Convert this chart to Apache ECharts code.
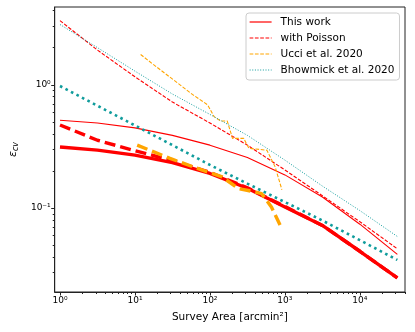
<!DOCTYPE html>
<html>
<head>
<meta charset="utf-8">
<script src="https://cdn.jsdelivr.net/npm/echarts@6/dist/echarts.min.js"></script>
<style>
  html, body { margin: 0; padding: 0; background: #fff; }
  #chart { width: 415px; height: 332px; }
</style>
</head>
<body>
<div id="chart"></div>
<script>
// survey areas (arcmin^2) shared by the model curves
const areas = [1, 3.16, 10, 31.6, 100, 316, 1000, 3162, 10000, 31623];

// this work: thin = one bin, thick = other bin
const thisWork = [0.515, 0.490, 0.447, 0.389, 0.324, 0.257, 0.186, 0.123, 0.0741, 0.0422];
const thisWorkThick = [0.313, 0.295, 0.269, 0.234, 0.191, 0.145, 0.102, 0.0724, 0.0447, 0.0272];
const poisson = [3.31, 1.91, 1.16, 0.724, 0.490, 0.324, 0.204, 0.126, 0.0776, 0.0468];
const poissonThick = [0.472, 0.355, 0.292, 0.243, 0.195, 0.146, 0.103, 0.0724, 0.0447, 0.0272];
const bhowmick = [3.08, 2.00, 1.29, 0.841, 0.575, 0.389, 0.245, 0.151, 0.0955, 0.0589];
const bhowmickThick = [0.977, 0.676, 0.468, 0.324, 0.224, 0.158, 0.112, 0.0794, 0.0550, 0.0380];

// Ucci et al. 2020 has its own area sampling
const ucciArea = [11.9, 17.7, 32.4, 58.9, 93.3, 113.5, 138, 170, 200, 282, 331, 575, 741, 912];
const ucci = [1.76, 1.455, 1.10, 0.832, 0.687, 0.552, 0.509, 0.509, 0.368, 0.368, 0.305, 0.295, 0.216, 0.141];
const ucciThickArea = [10.7, 29.3, 79.4, 145.5, 240, 324, 490, 661, 891];
const ucciThick = [0.324, 0.253, 0.203, 0.179, 0.144, 0.139, 0.131, 0.102, 0.07];

// axis ticks
const xMajor = [1, 10, 100, 1000, 10000];
const yMajor = [0.1, 1];
const legendNames = ["This work", "with Poisson", "Ucci et al. 2020", "Bhowmick et al. 2020"];

const font = "DejaVu Sans";
const red = "#ff0000";
const orange = "#ffa500";
const teal = "#109c9c";

function minorTicks(fromExp, toExp) {
  const out = [];
  for (let e = fromExp; e <= toExp; e++) {
    for (let k = 2; k <= 9; k++) out.push(k * Math.pow(10, e));
  }
  return out;
}

const sup = { "-": "\u207b", "0": "\u2070", "1": "\u00b9", "2": "\u00b2", "3": "\u00b3", "4": "\u2074" };
function powLabel(v) {
  const e = String(Math.round(Math.log10(v)));
  return "10" + e.split("").map((c) => sup[c]).join("");
}

function pairs(xs, ys) {
  return xs.map((x, i) => [x, ys[i]]);
}

function lineSeries(name, xs, ys, color, width, type) {
  return {
    name: name,
    type: "line",
    data: pairs(xs, ys),
    symbol: "none",
    silent: true,
    itemStyle: { color: color },
    lineStyle: { color: color, width: width, type: type, cap: "butt" },
  };
}

const chart = echarts.init(document.getElementById("chart"));

const xBase = { type: "log", min: 0.85, max: 40000, splitLine: { show: false }, position: "bottom" };
const yBase = { type: "log", min: 0.0209, max: 4.27, splitLine: { show: false }, position: "left" };

chart.setOption({
  animation: false,
  textStyle: { fontFamily: font },
  grid: { left: 48, right: 10, top: 7, bottom: 40, show: true, borderColor: "#222", borderWidth: 1 },
  legend: {
    data: legendNames,
    left: 246,
    top: 13,
    orient: "vertical",
    itemWidth: 22,
    itemHeight: 10,
    itemGap: 4,
    padding: [3, 5, 4, 3],
    borderColor: "#cccccc",
    borderWidth: 1,
    borderRadius: 3,
    backgroundColor: "rgba(255,255,255,0.8)",
    itemStyle: { opacity: 0, borderWidth: 0 },
    lineStyle: { width: 1.2 },
    textStyle: { fontFamily: font, fontSize: 10.5, color: "#000", lineHeight: 12, padding: [0, 0, 0, 4] },
  },
  xAxis: [
    Object.assign({}, xBase, {
      name: "Survey Area [arcmin\u00b2]",
      nameLocation: "middle",
      nameGap: 20,
      nameTextStyle: { fontFamily: font, fontSize: 10.5, color: "#000" },
      axisLine: { lineStyle: { color: "#222", width: 1 } },
      axisTick: { customValues: xMajor, length: 3.5, lineStyle: { color: "#222" } },
      axisLabel: { customValues: xMajor, formatter: powLabel, fontFamily: font, fontSize: 9, color: "#000", margin: 4 },
    }),
    Object.assign({}, xBase, {
      axisLine: { show: false },
      axisTick: { customValues: minorTicks(0, 4), length: 2, lineStyle: { color: "#222" } },
      axisLabel: { show: false },
    }),
  ],
  yAxis: [
    Object.assign({}, yBase, {
      name: "{e|\u03b5}{s|cv}",
      nameLocation: "middle",
      nameRotate: 90,
      nameGap: 28,
      nameTextStyle: {
        color: "#000",
        rich: {
          e: { fontFamily: font, fontSize: 11, fontStyle: "italic", color: "#000" },
          s: { fontFamily: font, fontSize: 8, fontStyle: "italic", color: "#000", verticalAlign: "bottom", padding: [5, 0, 0, 0] },
        },
      },
      axisLine: { lineStyle: { color: "#222", width: 1 } },
      axisTick: { customValues: yMajor, length: 3.5, lineStyle: { color: "#222" } },
      axisLabel: { customValues: yMajor, formatter: powLabel, fontFamily: font, fontSize: 9, color: "#000", margin: 4 },
    }),
    Object.assign({}, yBase, {
      axisLine: { show: false },
      axisTick: { customValues: minorTicks(-2, 0), length: 2, lineStyle: { color: "#222" } },
      axisLabel: { show: false },
    }),
  ],
  series: [
    lineSeries("This work", areas, thisWork, red, 1.1, "solid"),
    lineSeries("This work (bin 2)", areas, thisWorkThick, red, 3.4, "solid"),
    lineSeries("with Poisson", areas, poisson, red, 1.1, [3.7, 1.6]),
    lineSeries("with Poisson (bin 2)", areas, poissonThick, red, 3.4, [11, 5]),
    lineSeries("Ucci et al. 2020", ucciArea, ucci, orange, 1.1, [3.7, 1.6]),
    lineSeries("Ucci et al. 2020 (bin 2)", ucciThickArea, ucciThick, orange, 3.4, [11, 5]),
    lineSeries("Bhowmick et al. 2020", areas, bhowmick, teal, 1.0, [1, 1.65]),
    lineSeries("Bhowmick et al. 2020 (bin 2)", areas, bhowmickThick, teal, 2.6, [2.6, 3.6]),
  ],
});
</script>
</body>
</html>
